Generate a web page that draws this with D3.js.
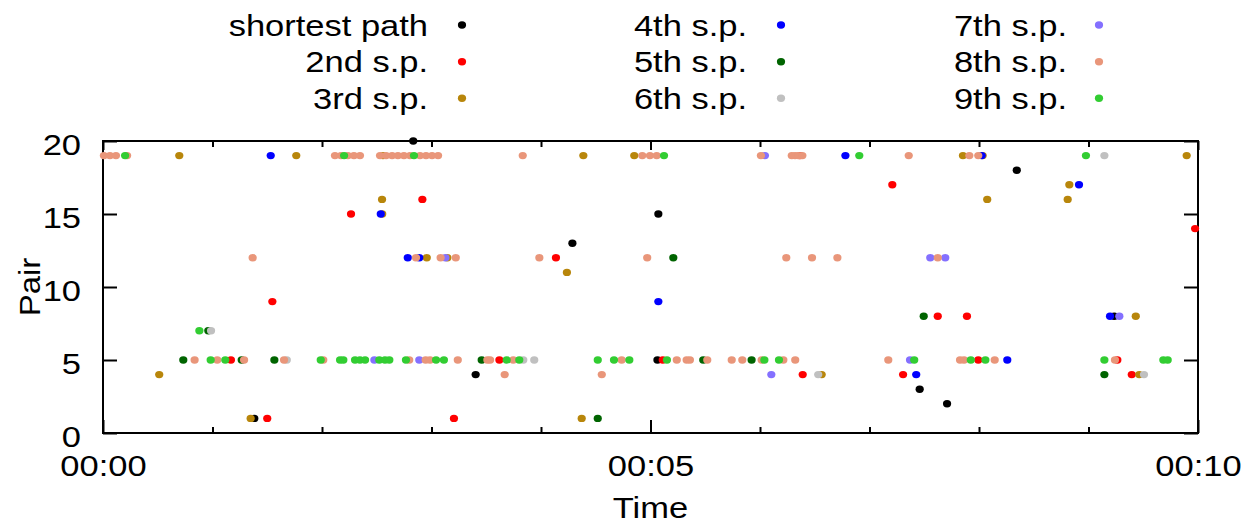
<!DOCTYPE html>
<html><head><meta charset="utf-8">
<script src="https://cdn.jsdelivr.net/npm/d3@7"></script>
<style>body{margin:0;background:#fff;overflow:hidden}</style>
</head><body><svg id="c" width="1246" height="523"></svg>
<script>
// ---- data: [time in seconds, pair] ----
const seriesNames = ["shortest path","2nd s.p.","3rd s.p.","4th s.p.","5th s.p.","6th s.p.","7th s.p.","8th s.p.","9th s.p."];
const seriesColors = ["#000000","#ff0000","#b8860b","#0000ff","#006400","#c0c0c0","#8470ff","#e9967a","#32cd32"];

const shortestPath = [[82.9,1],[170.0,20],[204.2,4],[257.2,13],[303.8,5],[304.3,15],[447.5,3],[462.5,2],[500.7,18],[554.1,8]];
const sp2 = [[70.1,5],[90.0,1],[92.8,9],[135.9,15],[175.0,16],[192.3,1],[217.2,5],[248.2,12],[306.7,5],[381.9,19],[383.4,4],[432.5,17],[438.4,4],[457.4,8],[473.4,8],[479.6,5],[555.8,5],[563.7,4],[598.4,14]];
const sp3 = [[30.8,4],[41.8,19],[80.9,1],[105.9,19],[152.9,16],[153.0,15],[153.4,19],[177.4,12],[188.7,12],[254.2,11],[262.3,1],[263.2,19],[291.1,19],[393.8,4],[471.2,19],[482.0,19],[484.5,16],[528.6,16],[529.5,17],[565.9,8],[567.8,4],[593.8,19]];
const sp4 = [[91.9,19],[152.2,15],[167.0,12],[173.3,12],[304.3,9],[406.8,19],[445.6,4],[481.5,19],[495.5,5],[534.8,17],[551.8,8]];
const sp5 = [[44.0,5],[57.7,7],[76.0,5],[93.9,5],[207.5,5],[271.1,1],[312.5,12],[328.9,5],[355.4,5],[449.7,8],[548.7,4]];
const sp6 = [[59.2,7],[100.7,5],[230.3,5],[236.3,5],[391.9,4],[548.7,19],[570.4,4]];
const sp7 = [[148.7,5],[173.3,5],[187.6,12],[362.7,19],[366.2,4],[442.2,5],[453.3,12],[461.5,12],[556.9,8]];
const sp8 = [[0.5,19],[3.8,19],[7.1,19],[13.2,19],[127.1,19],[130.4,19],[134.2,19],[137.5,19],[140.8,19],
  [151.8,19],[155.1,19],[158.4,19],[161.6,19],[164.9,19],[168.2,19],[173.7,19],[177.0,19],[180.3,19],[183.6,19],
  [230.0,19],[295.5,19],[299.7,19],[303.4,19],[360.5,19],[377.4,19],[379.2,19],[381.0,19],[383.2,19],[441.5,19],[474.7,19],[479.6,19],
  [82.0,12],[171.5,12],[185.0,12],[193.3,12],[239.1,12],[298.2,12],[374.4,12],[388.5,12],[402.4,12],[457.4,12],
  [50.2,5],[62.6,5],[77.3,5],[99.2,5],[120.7,5],[167.8,5],[176.8,5],[179.2,5],[194.4,5],[210.6,5],[212.1,5],[224.8,5],
  [284.2,5],[314.4,5],[319.8,5],[321.6,5],[331.1,5],[344.5,5],[350.3,5],[360.9,5],[372.8,5],[379.3,5],[430.3,5],[469.6,5],[471.8,5],[488.6,5],[554.5,5],
  [220.1,4],[273.3,4]];
const sp9 = [[12.1,19],[132.1,19],[170.4,19],[307.4,19],[414.4,19],[538.6,19],[52.8,7],
  [59.0,5],[67.0,5],[119.3,5],[129.9,5],[131.7,5],[138.1,5],[140.8,5],[143.6,5],[151.4,5],[154.5,5],[156.9,5],[166.0,5],[182.5,5],[186.8,5],
  [221.2,5],[228.1,5],[271.1,5],[280.0,5],[288.4,5],[309.0,5],[362.4,5],[370.4,5],[444.5,5],[475.5,5],[483.5,5],[548.7,5],[581.0,5],[583.4,5]];
const seriesData = [shortestPath, sp2, sp3, sp4, sp5, sp6, sp7, sp8, sp9];

const xMajorTicks = [0, 300, 600];
const xTickLabels = ["00:00", "00:05", "00:10"];
const xMinorTicks = [60,120,180,240,360,420,480,540];
const yTicks = [0, 5, 10, 15, 20];

// ---- layout ----
const L = 103, R = 1198, T = 141, B = 433;
const FONT = "'Liberation Sans', Arial, sans-serif";
const FS = 30, SX = 1.15;

const svg = d3.select("#c");
const x = d3.scaleLinear().domain([0, 600]).range([L, R]);
const y = d3.scaleLinear().domain([0, 20]).range([B, T]);

function stretchTexts(sel) {
  sel.selectAll("text").each(function() {
    const t = d3.select(this);
    const tx = +t.attr("x") || 0, ty = +t.attr("y") || 0;
    t.attr("transform", `translate(${tx},${ty}) scale(${SX},1)`).attr("x", 0).attr("y", 0);
  });
}

// axes
const gl = svg.append("g").attr("transform", `translate(${L},0)`)
  .call(d3.axisLeft(y).tickValues(yTicks).tickSizeInner(-14).tickSizeOuter(0).tickPadding(22));
const gr = svg.append("g").attr("transform", `translate(${R},0)`)
  .call(d3.axisRight(y).tickValues(yTicks).tickSizeInner(-14).tickSizeOuter(0).tickFormat(""));
const gb = svg.append("g").attr("transform", `translate(0,${B})`)
  .call(d3.axisBottom(x).tickValues(xMajorTicks).tickSizeInner(-13).tickSizeOuter(0).tickPadding(22)
    .tickFormat((d, i) => xTickLabels[i]));
const gbm = svg.append("g").attr("transform", `translate(0,${B})`)
  .call(d3.axisBottom(x).tickValues(xMinorTicks).tickSizeInner(-6).tickSizeOuter(0).tickFormat(""));
const gt = svg.append("g").attr("transform", `translate(0,${T})`)
  .call(d3.axisTop(x).tickValues(xMajorTicks).tickSizeInner(-9).tickSizeOuter(0).tickFormat(""));
const gtm = svg.append("g").attr("transform", `translate(0,${T})`)
  .call(d3.axisTop(x).tickValues(xMinorTicks).tickSizeInner(-6).tickSizeOuter(0).tickFormat(""));

[gl, gr, gb, gbm, gt, gtm].forEach(g => {
  g.select(".domain").remove();
  g.selectAll("line").attr("stroke", "#000").attr("stroke-width", 2);
  g.selectAll("text").attr("font-family", FONT).attr("font-size", FS).attr("fill", "#000");
});
gl.selectAll("text").attr("dy", "0.44em");
gb.selectAll("text").attr("dy", "0.7em");
stretchTexts(gl); stretchTexts(gb);

// frame
svg.append("rect").attr("x", L).attr("y", T).attr("width", R - L).attr("height", B - T)
  .attr("fill", "none").attr("stroke", "#000").attr("stroke-width", 2);

// axis titles
svg.append("text").text("Time").attr("font-family", FONT).attr("font-size", FS)
  .attr("text-anchor", "middle").attr("transform", `translate(${(L + R) / 2},518) scale(${SX},1)`);
svg.append("text").text("Pair").attr("font-family", FONT).attr("font-size", FS)
  .attr("text-anchor", "middle").attr("transform", `translate(40,${(T + B) / 2}) rotate(-90) scale(1.1,1)`);

// points
const plot = svg.append("g");
seriesData.forEach((data, i) => {
  plot.append("g").selectAll("ellipse").data(data).join("ellipse")
    .attr("cx", d => x(d[0])).attr("cy", d => y(d[1]))
    .attr("rx", 4.1).attr("ry", 3.7).attr("fill", seriesColors[i]);
});

// legend
const legTextX = [428, 747, 1067], legDotX = [462, 781, 1099];
const legRowY = [25, 61.7, 98.3];
const leg = svg.append("g");
seriesNames.forEach((name, i) => {
  const col = Math.floor(i / 3), row = i % 3;
  leg.append("text").text(name).attr("font-family", FONT).attr("font-size", FS)
    .attr("text-anchor", "end")
    .attr("transform", `translate(${legTextX[col]},${legRowY[row] + 10.5}) scale(${SX},1)`);
  leg.append("ellipse").attr("cx", legDotX[col]).attr("cy", legRowY[row])
    .attr("rx", 4.1).attr("ry", 3.7).attr("fill", seriesColors[i]);
});
</script></body></html>
